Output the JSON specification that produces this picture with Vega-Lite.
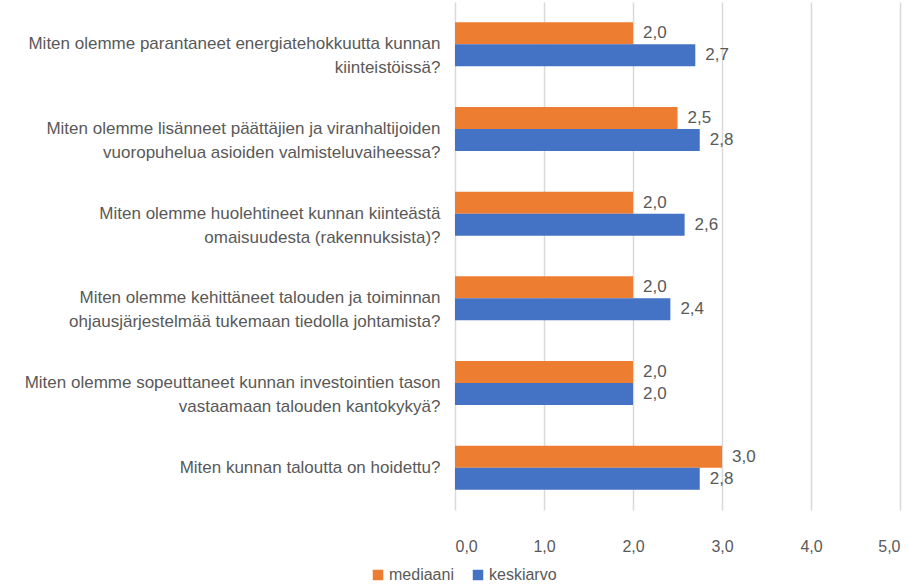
{
  "$schema": "https://vega.github.io/schema/vega-lite/v6.json",
  "autosize": {"type": "none"},
  "width": 445,
  "height": 508,
  "padding": {"left": 455, "top": 2, "right": 15, "bottom": 76},
  "background": "white",
  "config": {
    "locale": {"number": {"decimal": ",", "thousands": " ", "grouping": [3], "currency": ["", " €"]}},
    "view": {"stroke": null},
    "font": "Liberation Sans"
  },
  "data": {
    "values": [
      {"kysymys": "Miten olemme parantaneet energiatehokkuutta kunnan|kiinteistöissä?", "sarja": "mediaani", "arvo": 2.0},
      {"kysymys": "Miten olemme parantaneet energiatehokkuutta kunnan|kiinteistöissä?", "sarja": "keskiarvo", "arvo": 2.7},
      {"kysymys": "Miten olemme lisänneet päättäjien ja viranhaltijoiden|vuoropuhelua asioiden valmisteluvaiheessa?", "sarja": "mediaani", "arvo": 2.5},
      {"kysymys": "Miten olemme lisänneet päättäjien ja viranhaltijoiden|vuoropuhelua asioiden valmisteluvaiheessa?", "sarja": "keskiarvo", "arvo": 2.75},
      {"kysymys": "Miten olemme huolehtineet kunnan kiinteästä|omaisuudesta (rakennuksista)?", "sarja": "mediaani", "arvo": 2.0},
      {"kysymys": "Miten olemme huolehtineet kunnan kiinteästä|omaisuudesta (rakennuksista)?", "sarja": "keskiarvo", "arvo": 2.58},
      {"kysymys": "Miten olemme kehittäneet talouden ja toiminnan|ohjausjärjestelmää tukemaan tiedolla johtamista?", "sarja": "mediaani", "arvo": 2.0},
      {"kysymys": "Miten olemme kehittäneet talouden ja toiminnan|ohjausjärjestelmää tukemaan tiedolla johtamista?", "sarja": "keskiarvo", "arvo": 2.42},
      {"kysymys": "Miten olemme sopeuttaneet kunnan investointien tason|vastaamaan talouden kantokykyä?", "sarja": "mediaani", "arvo": 2.0},
      {"kysymys": "Miten olemme sopeuttaneet kunnan investointien tason|vastaamaan talouden kantokykyä?", "sarja": "keskiarvo", "arvo": 2.0},
      {"kysymys": "Miten kunnan taloutta on hoidettu?", "sarja": "mediaani", "arvo": 3.0},
      {"kysymys": "Miten kunnan taloutta on hoidettu?", "sarja": "keskiarvo", "arvo": 2.75}
    ]
  },
  "encoding": {
    "y": {
      "field": "kysymys", "type": "nominal", "sort": null,
      "scale": {"paddingInner": 0.48, "paddingOuter": 0.24},
      "axis": {
        "title": null, "domain": false, "ticks": false, "grid": false,
        "labelExpr": "split(datum.label, '|')",
        "labelFont": "Liberation Sans", "labelFontSize": 17, "labelColor": "#595959",
        "labelPadding": 15, "labelLimit": 460, "labelLineHeight": 24
      }
    },
    "yOffset": {"field": "sarja", "type": "nominal", "sort": ["mediaani", "keskiarvo"]},
    "x": {
      "field": "arvo", "type": "quantitative",
      "scale": {"domain": [0, 5], "nice": false},
      "axis": {
        "title": null, "domain": false, "ticks": false,
        "values": [0, 1, 2, 3, 4, 5], "format": ".1f",
        "grid": true, "gridColor": "#D9D9D9", "gridWidth": 1.5,
        "labelFont": "Liberation Sans", "labelFontSize": 16, "labelColor": "#595959",
        "labelPadding": 28
      }
    }
  },
  "layer": [
    {
      "mark": {"type": "bar"},
      "encoding": {
        "color": {
          "field": "sarja", "type": "nominal",
          "scale": {"domain": ["mediaani", "keskiarvo"], "range": ["#ED7D31", "#4472C4"]},
          "legend": {
            "title": null, "orient": "none", "direction": "horizontal",
            "legendX": -85, "legendY": 565,
            "symbolType": "square", "symbolSize": 110, "symbolStrokeWidth": 0,
            "labelFont": "Liberation Sans", "labelFontSize": 16, "labelColor": "#595959",
            "columnPadding": 16, "labelOffset": 3
          }
        }
      }
    },
    {
      "mark": {"type": "text", "align": "left", "dx": 10, "fontSize": 17, "color": "#595959", "font": "Liberation Sans"},
      "encoding": {
        "text": {"field": "arvo", "type": "quantitative", "format": ".1f"}
      }
    }
  ]
}
